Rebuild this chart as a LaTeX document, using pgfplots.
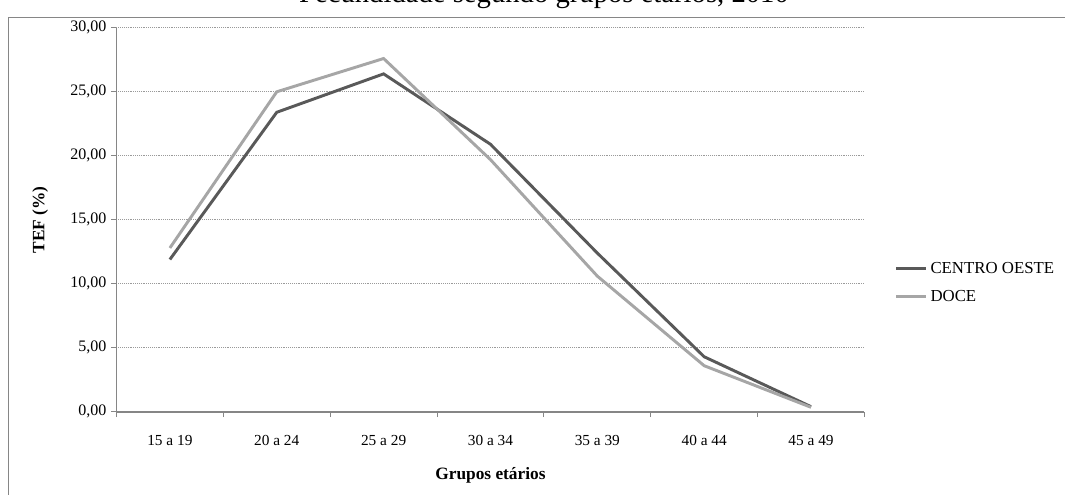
\documentclass[border=0pt]{standalone}
\usepackage{pgfplots}
\pgfplotsset{compat=1.18}
\usepackage{fontspec}
\setmainfont{Liberation Serif}
\definecolor{darkline}{HTML}{595959}
\definecolor{lightline}{HTML}{A6A6A6}
\definecolor{axisgray}{HTML}{868686}
\definecolor{gridgray}{HTML}{9A9A9A}
\begin{document}
\begin{tikzpicture}[x=0.75pt,y=0.75pt]
% page frame (pixel grid, origin bottom-left)
\path[use as bounding box] (0,0) rectangle (1065,495);
\draw[axisgray,line width=0.75pt] (8,-10) rectangle (1080,477);
% title, partly above the page edge
\node[anchor=base,font=\fontsize{21.5}{24}\selectfont] at (544,492.5) {Fecundidade segundo grupos etários, 2010};
\begin{axis}[
  at={(109,65)}, anchor=south west,
  scale only axis, width=561pt, height=288pt,
  xmin=-0.5, xmax=6.5, ymin=0, ymax=30,
  axis x line=bottom, axis y line=left,
  axis line style={-, axisgray, line width=1.2pt},
  xtick={0,...,6},
  xticklabels={15 a 19,20 a 24,25 a 29,30 a 34,35 a 39,40 a 44,45 a 49},
  minor xtick={-0.5,0.5,...,6.5},
  major x tick style={draw=none},
  minor x tick style={axisgray, line width=0.75pt},
  minor tick length=4pt,
  ytick={0,5,...,30},
  y tick style={axisgray, line width=0.75pt},
  major tick length=4pt,
  tick align=outside,
  yticklabel={\pgfmathprintnumber[fixed,fixed zerofill,precision=2,use comma]{\tick}},
  /pgf/number format/assume math mode=true,
  ticklabel style={font=\fontsize{11.5}{13}\selectfont},
  yticklabel style={font=\fontsize{12}{13}\selectfont},
  xticklabel style={yshift=-9pt, text height=8.5pt, text depth=2pt},
  ymajorgrids,
  grid style={gridgray, densely dotted, line width=0.6pt},
  xlabel={\textbf{Grupos etários}},
  ylabel={\textbf{TEF (\%)}},
  label style={font=\fontsize{13}{15}\selectfont},
  xlabel style={yshift=-8pt},
  ylabel style={yshift=10pt},
  legend style={at={(1.035,0.336)}, anchor=west, draw=none, fill=none,
    font=\fontsize{12.6}{14}\selectfont, row sep=7pt},
  legend cell align=left,
  legend image code/.code={\draw[#1,line width=2.2pt] (0pt,0pt) -- (22.5pt,0pt);},
  clip=false,
]
\addplot[darkline, line width=2.2pt] coordinates {
  (0,11.9) (1,23.4) (2,26.4) (3,20.9) (4,12.4) (5,4.3) (6,0.4)};
\addlegendentry{CENTRO OESTE}
\addplot[lightline, line width=2.2pt] coordinates {
  (0,12.8) (1,25.0) (2,27.6) (3,19.7) (4,10.6) (5,3.6) (6,0.35)};
\addlegendentry{DOCE}
\end{axis}
\end{tikzpicture}
\end{document}
